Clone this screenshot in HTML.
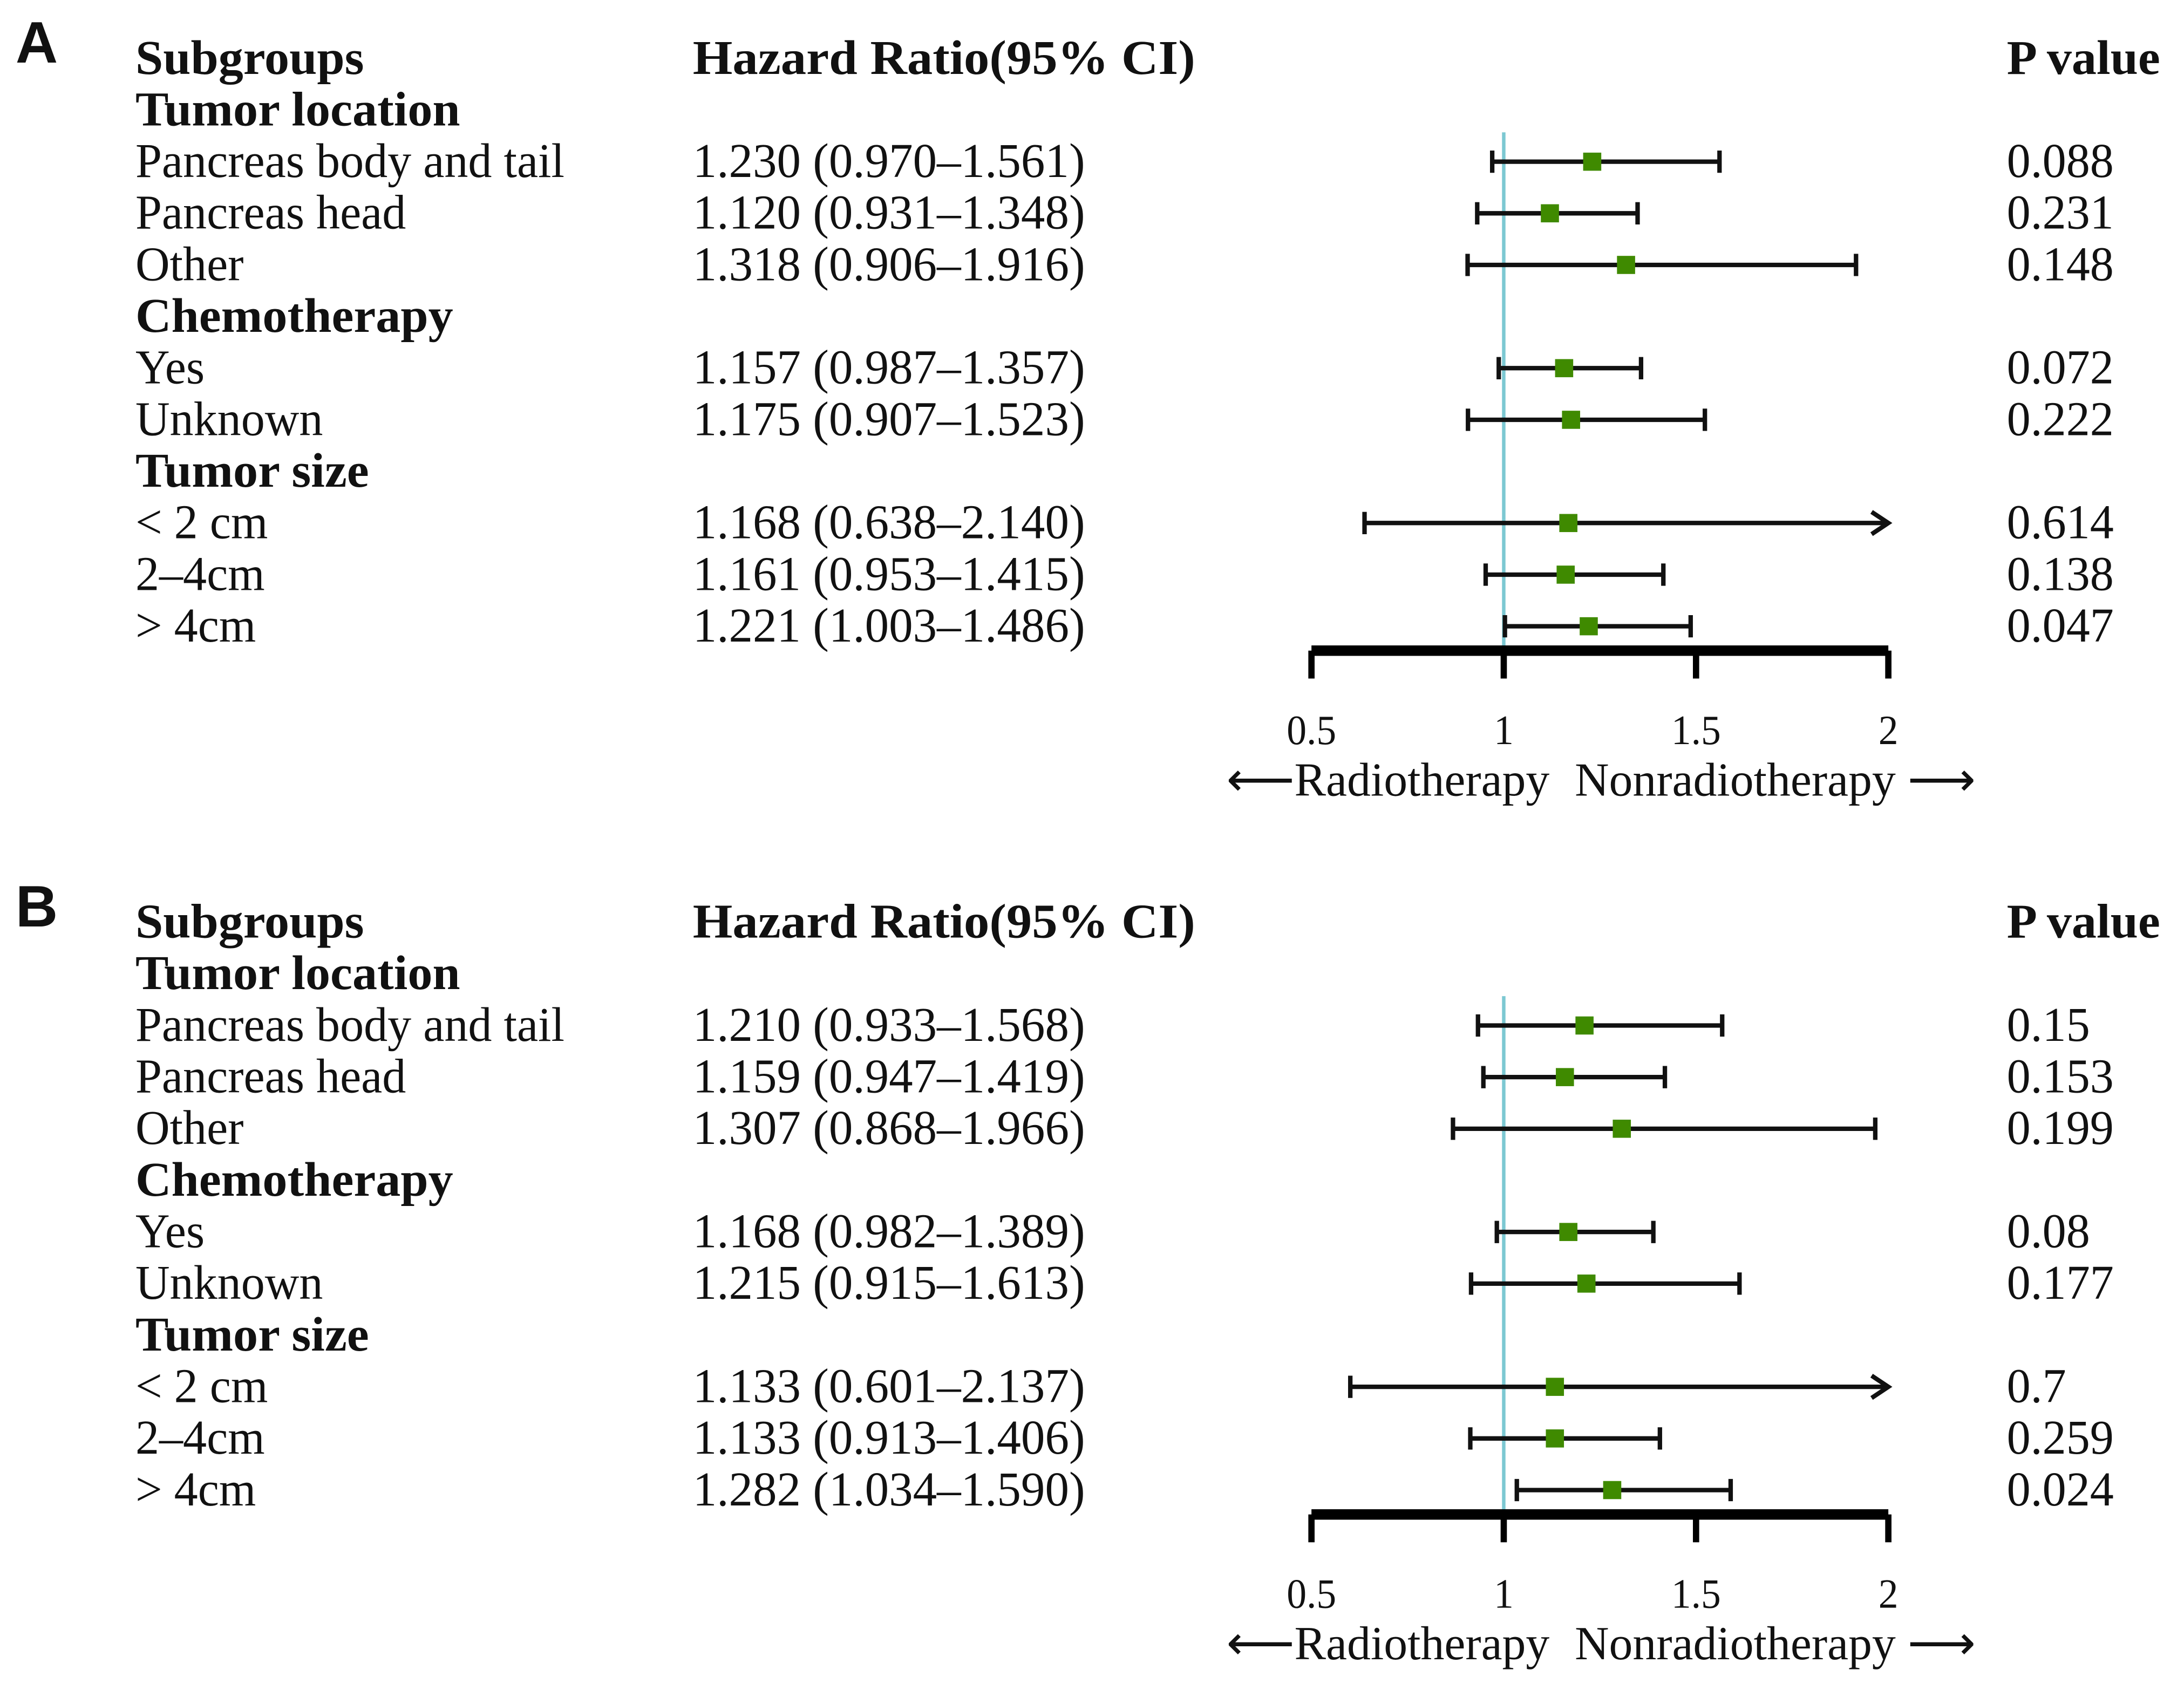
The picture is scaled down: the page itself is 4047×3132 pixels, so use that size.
<!DOCTYPE html>
<html><head><meta charset="utf-8"><style>
html,body{margin:0;padding:0;background:#fff;}
svg{display:block;}
text{font-family:"Liberation Serif",serif;fill:#111;}
</style></head><body>
<svg id="fig" width="4047" height="3132" viewBox="0 0 1567 1213" xmlns="http://www.w3.org/2000/svg"></svg>
<script>
// ---- data ----
const labels = ["Tumor location","Pancreas body and tail","Pancreas head","Other","Chemotherapy","Yes","Unknown","Tumor size","< 2 cm","2\u20134cm","> 4cm"];
const isHeader = [true,false,false,false,true,false,false,true,false,false,false];
const hrA = [null,1.230,1.120,1.318,null,1.157,1.175,null,1.168,1.161,1.221];
const loA = [null,0.970,0.931,0.906,null,0.987,0.907,null,0.638,0.953,1.003];
const hiA = [null,1.561,1.348,1.916,null,1.357,1.523,null,2.140,1.415,1.486];
const pA  = [null,"0.088","0.231","0.148",null,"0.072","0.222",null,"0.614","0.138","0.047"];
const hrB = [null,1.210,1.159,1.307,null,1.168,1.215,null,1.133,1.133,1.282];
const loB = [null,0.933,0.947,0.868,null,0.982,0.915,null,0.601,0.913,1.034];
const hiB = [null,1.568,1.419,1.966,null,1.389,1.613,null,2.137,1.406,1.590];
const pB  = [null,"0.15","0.153","0.199",null,"0.08","0.177",null,"0.7","0.259","0.024"];
const ticks = [0.5,1,1.5,2];
const tickLabels = ["0.5","1","1.5","2"];

const NS="http://www.w3.org/2000/svg";
const svg=document.getElementById('fig');
const xScale=v=>941+(v-0.5)*(1355-941)/1.5;
const xMax=2;
function mk(tag,attrs,parent){const e=document.createElementNS(NS,tag);for(const k in attrs)e.setAttribute(k,attrs[k]);(parent||svg).appendChild(e);return e;}
function txt(s,x,y,size,bold,parent,anchor,sx){
  const k=sx||(bold?1.02:0.975);
  const t=mk('text',{transform:`translate(${x},${y}) scale(${k},1)`,'font-size':size,'font-weight':bold?'bold':'normal','text-anchor':anchor||'start'},parent);
  t.textContent=s;return t;
}
const fmt=v=>v.toFixed(3);

function panel(letter,off,hr,lo,hi,pv){
  const g=mk('g',{});
  
  
  const L=mk('text',{x:11,y:off+45,'font-size':42,'font-weight':'bold'},g);
  L.textContent=letter;L.style.fontFamily='"Liberation Sans",sans-serif';
  
  
  let h=txt('Subgroups',97,off+53,35,true,g);
  
  h=txt('Hazard Ratio(95% CI)',497,off+53,35,true,g,'start',1.048);
  
  h=txt('P value',1440,off+53,35,true,g);
  
  const ref=mk('line',{x1:xScale(1),x2:xScale(1),y1:off+95,y2:off+467,stroke:'#7cc8d2','stroke-width':2.5},g);
  
  const rowBase=i=>off+90+i*37.05;
  labels.forEach((lab,i)=>{
    const yb=rowBase(i);
    const t=txt(lab,97,yb,35,isHeader[i],g);
    
    
    if(hr[i]===null)return;
    const ht=txt(`${fmt(hr[i])} (${fmt(lo[i])}\u2013${fmt(hi[i])})`,497,yb,35,false,g,'start',0.985);
    
    const pt=txt(pv[i],1440,yb,35,false,g);
    
    const yc=yb-11;
    const x1=xScale(lo[i]);const clipped=hi[i]>xMax;const x2=xScale(Math.min(hi[i],xMax));
    const ci=mk('line',{x1:x1,x2:x2,y1:yc,y2:yc,stroke:'#111','stroke-width':3.2},g);
    
    const c1=mk('line',{x1:x1,x2:x1,y1:yc-8,y2:yc+8,stroke:'#111','stroke-width':3.2},g);
    
    if(clipped){
      const ar=mk('polyline',{points:`${x2-12},${yc-8} ${x2},${yc} ${x2-12},${yc+8}`,fill:'none',stroke:'#111','stroke-width':3.2},g);
      
    } else {
      const c2=mk('line',{x1:x2,x2:x2,y1:yc-8,y2:yc+8,stroke:'#111','stroke-width':3.2},g);
      
    }
    const sq=mk('rect',{x:xScale(hr[i])-6.5,y:yc-6.5,width:13,height:13,fill:'#3f8a00'},g);
    
  });
  const ay=off+467;
  const ax=mk('line',{x1:xScale(0.5),x2:xScale(2),y1:ay,y2:ay,stroke:'#000','stroke-width':7.5},g);
  
  ticks.forEach((v,k)=>{
    const tk=mk('line',{x1:xScale(v),x2:xScale(v),y1:ay,y2:ay+20,stroke:'#000','stroke-width':4.5},g);
    
    const tl=txt(tickLabels[k],xScale(v),off+534,30,false,g,'middle',0.95);
    
  });
  let a=txt('\u27F5Radiotherapy',880,off+571,34,false,g,'start',1.0);
  
  a=txt('Nonradiotherapy \u27F6',1130,off+571,34,false,g,'start',1.0);
  
}
panel('A',0,hrA,loA,hiA,pA);
panel('B',620,hrB,loB,hiB,pB);
</script>
</body></html>
